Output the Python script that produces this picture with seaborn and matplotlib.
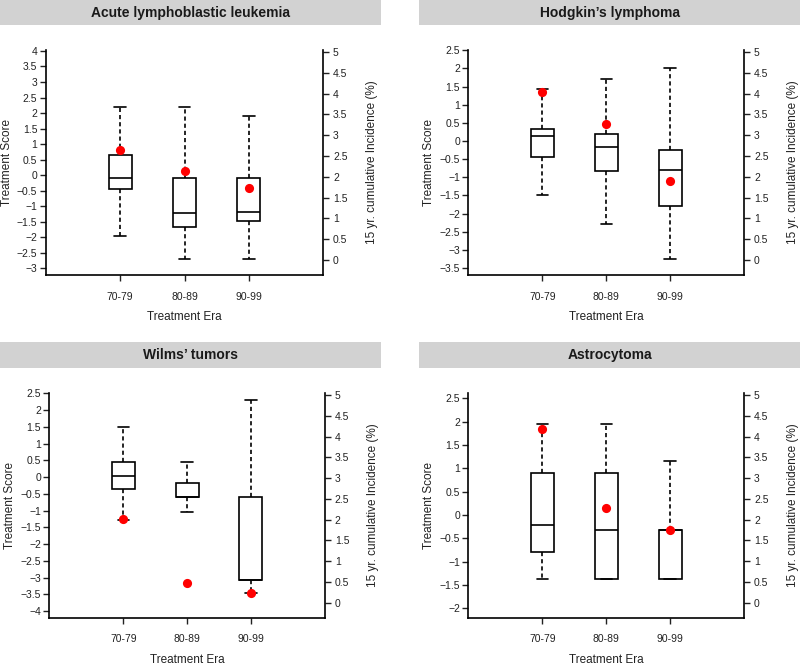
import matplotlib.pyplot as plt
import matplotlib.ticker as ticker
from matplotlib.patches import Rectangle
import numpy as np
import pandas as pd
import seaborn as sns

eras = ["70-79", "80-89", "90-99"]

# five-number summaries of the treatment score (whisker low, Q1, median, Q3, whisker high)
all_low = [-1.97, -2.71, -2.71]
all_q1 = [-0.43, -1.68, -1.47]
all_med = [-0.09, -1.20, -1.17]
all_q3 = [0.64, -0.10, -0.10]
all_high = [2.21, 2.21, 1.91]
all_inc = [2.64, 2.14, 1.72]

hod_low = [-1.49, -2.30, -3.26]
hod_q1 = [-0.43, -0.83, -1.79]
hod_med = [0.15, -0.17, -0.81]
hod_q3 = [0.32, 0.20, -0.26]
hod_high = [1.43, 1.72, 2.02]
hod_inc = [4.04, 3.28, 1.91]

wil_low = [-1.28, -1.05, -3.46]
wil_q1 = [-0.37, -0.61, -3.07]
wil_med = [0.03, -0.61, -3.07]
wil_q3 = [0.45, -0.17, -0.60]
wil_high = [1.49, 0.45, 2.31]
wil_inc = [2.02, 0.47, 0.24]

ast_low = [-1.37, -1.37, -1.37]
ast_q1 = [-0.79, -1.37, -1.37]
ast_med = [-0.22, -0.32, -0.32]
ast_q3 = [0.89, 0.89, -0.32]
ast_high = [1.95, 1.95, 1.16]
ast_inc = [4.19, 2.29, 1.75]

sns.set_theme(style="ticks")
plt.rcParams["font.family"] = ["Liberation Sans", "DejaVu Sans"]
plt.rcParams["axes.unicode_minus"] = True

W, H = 800, 668
fig = plt.figure(figsize=(W / 100, H / 100), dpi=100)


def frac(x0, y0, x1, y1):
    # pixel box (top-left origin) -> figure fraction rect
    return [x0 / W, 1 - y1 / H, (x1 - x0) / W, (y1 - y0) / H]


def fmt(v, pos):
    return f"{round(v, 2):g}".replace("-", "\u2212")


def panel(box, bar, title, low, q1, med, q3, high, inc, ylim):
    ax = fig.add_axes(frac(*box))
    df = pd.DataFrame({
        "era": np.repeat(eras, 5),
        "score": np.column_stack([low, q1, med, q3, high]).ravel(),
    })
    sns.boxplot(data=df, x="era", y="score", order=eras, ax=ax, width=0.36,
                whis=(0, 100), color="white", linecolor="black", linewidth=1.2,
                fliersize=0, whiskerprops=dict(linestyle=(0, (2.5, 1.8))))
    ax2 = ax.twinx()
    sns.stripplot(x=eras, y=inc, order=eras, ax=ax2, jitter=False,
                  color="#ff0000", size=6.6, linewidth=0)

    ax.set_xlim(-1.16, 3.16)
    ax.set_ylim(*ylim)
    lo = np.ceil(ylim[0] * 2) / 2
    ax.set_yticks(np.arange(lo, ylim[1] + 0.01, 0.5))
    ax.yaxis.set_major_formatter(ticker.FuncFormatter(fmt))
    ax2.set_ylim(-0.36, 5.05)
    ax2.set_yticks(np.arange(0, 5.01, 0.5))
    ax2.yaxis.set_major_formatter(ticker.FuncFormatter(fmt))

    for a in (ax, ax2):
        a.spines["top"].set_visible(False)
        for s in a.spines.values():
            s.set_linewidth(1.2)
            s.set_color("black")
    ax.spines["right"].set_visible(False)
    ax2.spines["left"].set_visible(False)
    ax2.spines["bottom"].set_visible(False)

    ax.tick_params(axis="x", length=4, width=1, pad=8, labelsize=7.5, colors="#222222")
    ax.tick_params(axis="y", length=4, width=1, pad=2, labelsize=7.5, colors="#222222")
    ax2.tick_params(axis="y", length=4, width=1, pad=3, labelsize=7.5, colors="#222222")

    ax.set_xlabel("Treatment Era", fontsize=8.5, labelpad=7, color="#222222")
    ax.set_ylabel("Treatment Score", fontsize=8.5, labelpad=3, color="#222222")
    ax2.set_ylabel("15 yr. cumulative Incidence (%)", fontsize=8.5, labelpad=13,
                   color="#222222")

    bx0, by0, bx1, by1 = bar
    fig.add_artist(Rectangle((bx0 / W, 1 - by1 / H), (bx1 - bx0) / W, (by1 - by0) / H,
                             transform=fig.transFigure, facecolor="#d2d2d2",
                             edgecolor="none"))
    fig.text((bx0 + bx1) / 2 / W, 1 - (by0 + by1) / 2 / H, title, ha="center",
             va="center", fontsize=10, fontweight="bold", color="#1a1a1a")


panel((45.7, 50, 323.3, 275), (0, 0, 381, 25), "Acute lymphoblastic leukemia",
      all_low, all_q1, all_med, all_q3, all_high, all_inc, (-3.21, 4.03))
panel((468.3, 50, 744.3, 275), (419, 0, 800, 25), "Hodgkin\u2019s lymphoma",
      hod_low, hod_q1, hod_med, hod_q3, hod_high, hod_inc, (-3.695, 2.51))
panel((49.3, 393, 325, 617.7), (0, 342, 381, 368), "Wilms\u2019 tumors",
      wil_low, wil_q1, wil_med, wil_q3, wil_high, wil_inc, (-4.2, 2.51))
panel((468.3, 393, 744.3, 617.7), (419, 342, 800, 368), "Astrocytoma",
      ast_low, ast_q1, ast_med, ast_q3, ast_high, ast_inc, (-2.2, 2.614))

fig.savefig("out.png", dpi=100)
